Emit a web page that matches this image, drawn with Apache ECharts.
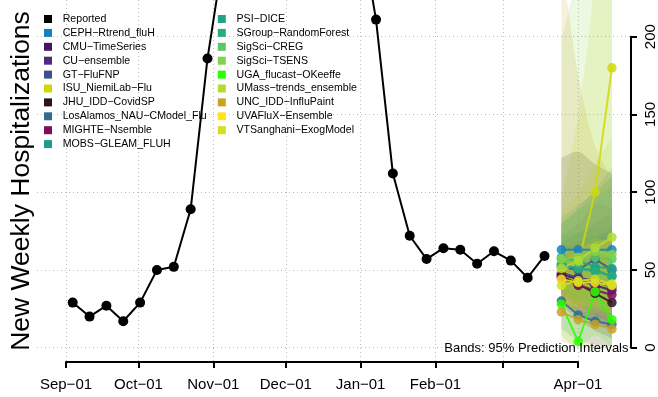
<!DOCTYPE html>
<html>
<head>
<meta charset="utf-8">
<script src="https://cdn.jsdelivr.net/npm/echarts@6/dist/echarts.min.js"></script>
<style>
  html, body { margin: 0; padding: 0; background: #ffffff; }
  #chart { width: 658px; height: 397px; }
</style>
</head>
<body>
<div id="chart"></div>
<script>
// ---- Reported weekly admissions (week ending Saturday) ----
const reportedDates = [
  '2022-09-03','2022-09-10','2022-09-17','2022-09-24',
  '2022-10-01','2022-10-08','2022-10-15','2022-10-22','2022-10-29',
  '2022-11-05','2022-11-12','2022-11-19','2022-11-26',
  '2022-12-03','2022-12-10','2022-12-17','2022-12-24','2022-12-31',
  '2023-01-07','2023-01-14','2023-01-21','2023-01-28',
  '2023-02-04','2023-02-11','2023-02-18','2023-02-25',
  '2023-03-04','2023-03-11','2023-03-18'
];
const reportedValues = [
  29, 20, 27, 17,
  29, 50, 52, 89, 186,
  256, 330, 400, 450,
  470, 430, 380, 320, 275,
  211, 112, 72, 57,
  64, 63, 54, 62,
  56, 45, 59
];

// ---- Forecast targets ----
const forecastDates = ['2023-03-25', '2023-04-01', '2023-04-08', '2023-04-15'];

const modelNames = [
  'CEPH−Rtrend_fluH', 'CMU−TimeSeries', 'CU−ensemble', 'GT−FluFNP',
  'ISU_NiemiLab−Flu', 'JHU_IDD−CovidSP', 'LosAlamos_NAU−CModel_Flu',
  'MIGHTE−Nsemble', 'MOBS−GLEAM_FLUH', 'PSI−DICE', 'SGroup−RandomForest',
  'SigSci−CREG', 'SigSci−TSENS', 'UGA_flucast−OKeeffe',
  'UMass−trends_ensemble', 'UNC_IDD−InfluPaint', 'UVAFluX−Ensemble',
  'VTSanghani−ExogModel'
];
const modelColors = [
  '#1582c0', '#4b1366', '#4a2d80', '#3d5090',
  '#d0d80a', '#2c1222', '#2f6b90',
  '#7a0f5c', '#229a8b', '#20a386', '#26ad7e',
  '#5cc863', '#84d24a', '#2cff00',
  '#b3dc30', '#c9a227', '#fde31f',
  '#d3e020'
];
// Median forecasts
const modelMedian = [
  [63, 63, 63, 63],
  [47, 44, 40, 37],
  [48, 45, 43, 39],
  [52, 50, 57, 50],
  [50, 54, 100, 180],
  [46, 41, 35, 29],
  [30, 21, 17, 15],
  [45, 40, 37, 34],
  [53, 51, 50, 46],
  [58, 56, 52, 51],
  [54, 51, 49, 46],
  [57, 55, 58, 57],
  [57, 58, 62, 60],
  [28, 4, 36, 18],
  [51, 56, 64, 71],
  [23, 18, 15, 12],
  [44, 42, 42, 40],
  [40, 43, 44, 41]
];
// 95% prediction interval, lower bound
const modelLower95 = [
  [44, 38, 33, 28],
  [34, 27, 21, 16],
  [30, 23, 17, 12],
  [36, 30, 30, 24],
  [30, 25, 40, 60],
  [27, 18, 11, 6],
  [12, 5, 2, 1],
  [30, 22, 16, 11],
  [36, 29, 23, 18],
  [40, 33, 27, 22],
  [38, 32, 27, 23],
  [40, 34, 34, 30],
  [36, 30, 28, 24],
  [8, 0, 8, 0],
  [30, 26, 24, 22],
  [4, 1, 0, 0],
  [28, 24, 22, 18],
  [24, 27, 26, 22]
];
// 95% prediction interval, upper bound
const modelUpper95 = [
  [84, 92, 100, 110],
  [62, 66, 70, 74],
  [68, 74, 80, 86],
  [72, 80, 92, 90],
  [95, 150, 240, 400],
  [122, 126, 118, 112],
  [55, 50, 48, 48],
  [64, 68, 72, 76],
  [80, 90, 102, 116],
  [80, 88, 96, 104],
  [72, 74, 76, 78],
  [80, 88, 100, 110],
  [198, 243, 300, 380],
  [56, 40, 72, 48],
  [88, 100, 118, 135],
  [250, 175, 130, 110],
  [62, 64, 68, 70],
  [60, 66, 70, 68]
];

// ---- Axis ticks ----
const monthTickDates = [
  '2022-09-01','2022-10-01','2022-11-01','2022-12-01',
  '2023-01-01','2023-02-01','2023-03-01','2023-04-01'
];
const monthLabelDates = [
  '2022-09-01','2022-10-01','2022-11-01','2022-12-01',
  '2023-01-01','2023-02-01','2023-04-01'
];
const monthLabels = ['Sep−01','Oct−01','Nov−01','Dec−01','Jan−01','Feb−01','Apr−01'];
const yTickValues = [0, 50, 100, 150, 200];

// ---- helpers ----
// dates are placed on a numeric (millisecond) axis
const ts = s => { const p = s.split('-').map(Number); return Date.UTC(p[0], p[1] - 1, p[2]); };
const FONT = '"Liberation Sans", Arial, Helvetica, sans-serif';
const DOT = { color: '#bdbdbd', width: 1, type: [1, 3] };
const BAND_ALPHA = 0.16;

const plotStart = ts('2022-08-20');
const plotEnd = ts('2023-04-25');
const labelTs = monthLabelDates.map(ts);
const forecastTs = forecastDates.map(ts);

// Catmull-Rom style cubic segments through pixel points
function curveThrough(pts, first) {
  let s = (first ? 'M' : 'L') + pts[0][0] + ' ' + pts[0][1];
  const n = pts.length;
  for (let i = 0; i < n - 1; i++) {
    const p0 = pts[Math.max(i - 1, 0)], p1 = pts[i], p2 = pts[i + 1], p3 = pts[Math.min(i + 2, n - 1)];
    const c1 = [p1[0] + (p2[0] - p0[0]) / 6, p1[1] + (p2[1] - p0[1]) / 6];
    const c2 = [p2[0] - (p3[0] - p1[0]) / 6, p2[1] - (p3[1] - p1[1]) / 6];
    s += 'C' + c1[0] + ' ' + c1[1] + ' ' + c2[0] + ' ' + c2[1] + ' ' + p2[0] + ' ' + p2[1];
  }
  return s;
}

const series = [];

// 95% prediction bands, one filled shape per model
modelNames.forEach((name, i) => {
  series.push({
    name: name + ' 95% band',
    type: 'custom', xAxisIndex: 0, yAxisIndex: 0, z: 1, silent: true, clip: true,
    data: forecastTs.map((x, k) => [x, modelLower95[i][k], modelUpper95[i][k]]),
    encode: { x: 0, y: [1, 2] },
    renderItem: (params, api) => {
      if (params.dataIndex !== 0) return null;
      const up = forecastTs.map((x, k) => api.coord([x, modelUpper95[i][k]]));
      const lo = forecastTs.map((x, k) => api.coord([x, modelLower95[i][k]])).reverse();
      const d = curveThrough(up, true) + curveThrough(lo, false) + 'Z';
      return {
        type: 'path',
        shape: { pathData: d },
        style: { fill: modelColors[i], opacity: BAND_ALPHA, stroke: null }
      };
    }
  });
});

// Reported data
series.push({
  name: 'Reported',
  type: 'line', xAxisIndex: 0, yAxisIndex: 0, z: 3,
  symbol: 'circle', symbolSize: 10,
  itemStyle: { color: '#000000' },
  lineStyle: { color: '#000000', width: 2 },
  data: reportedDates.map((d, k) => [ts(d), reportedValues[k]])
});

// Median forecast lines
modelNames.forEach((name, i) => {
  series.push({
    name: name,
    type: 'line', xAxisIndex: 0, yAxisIndex: 0, z: 4,
    symbol: 'circle', symbolSize: 9.5,
    itemStyle: { color: modelColors[i], opacity: 0.85 },
    lineStyle: { color: modelColors[i], width: 2, opacity: 0.85 },
    data: forecastTs.map((x, k) => [x, modelMedian[i][k]])
  });
});

const legendCommon = {
  orient: 'vertical', top: 13, padding: 0,
  itemWidth: 8, itemHeight: 8, itemGap: 1.9,
  icon: 'rect',
  itemStyle: { opacity: 1 },
  textStyle: { fontSize: 10.6, color: '#000', fontFamily: FONT, lineHeight: 12, padding: [0, 0, 0, 5.7] },
  selectedMode: false
};

const option = {
  animation: false,
  backgroundColor: '#ffffff',
  textStyle: { fontFamily: FONT },
  title: {
    text: 'Bands: 95% Prediction Intervals',
    right: 29.5, top: 341.5, padding: 0,
    textStyle: { fontSize: 13, fontWeight: 'normal', color: '#000', fontFamily: FONT, lineHeight: 13 }
  },
  legend: [
    Object.assign({ left: 44, data: ['Reported'].concat(modelNames.slice(0, 9)) }, legendCommon),
    Object.assign({ left: 217.8, data: modelNames.slice(9) }, legendCommon)
  ],
  grid: [
    { left: 37, right: 22, top: 0, bottom: 35 },        // plotting area
    { left: 37, right: 22, top: 36.7, bottom: 49.3 },   // count axis 0..200
    { left: 66, right: 80, top: 0, bottom: 35 }         // date axis Sep-01..Apr-01
  ],
  xAxis: [
    { gridIndex: 0, type: 'value', min: plotStart, max: plotEnd, show: false },
    { gridIndex: 1, type: 'value', min: plotStart, max: plotEnd, show: false },
    {
      gridIndex: 2, type: 'value', position: 'bottom',
      min: ts(monthTickDates[0]), max: ts(monthTickDates[monthTickDates.length - 1]),
      axisLine: { show: true, lineStyle: { color: '#000', width: 2 } },
      axisTick: { show: true, length: 6, lineStyle: { color: '#000', width: 2 },
                  customValues: monthTickDates.map(ts) },
      axisLabel: {
        show: true, fontSize: 15, color: '#000', fontFamily: FONT, margin: 15,
        customValues: labelTs,
        formatter: v => { const k = labelTs.indexOf(v); return k >= 0 ? monthLabels[k] : ''; }
      },
      splitLine: { show: true, lineStyle: DOT }
    }
  ],
  yAxis: [
    {
      gridIndex: 0, type: 'value', min: -9.196, max: 223.6, position: 'left',
      name: 'New Weekly Hospitalizations', nameLocation: 'middle', nameRotate: 90, nameGap: 4,
      nameTextStyle: { fontSize: 26.5, color: '#000', fontFamily: FONT },
      axisLine: { show: false }, axisTick: { show: false }, axisLabel: { show: false },
      splitLine: { show: false }
    },
    {
      gridIndex: 1, type: 'value', min: 0, max: 200, interval: 50, position: 'right',
      axisLine: { show: true, lineStyle: { color: '#000', width: 2 } },
      axisTick: { show: true, length: 6, lineStyle: { color: '#000', width: 2 },
                  customValues: yTickValues },
      axisLabel: { show: true, rotate: 90, fontSize: 15, color: '#000', fontFamily: FONT, margin: 12 },
      splitLine: { show: true, lineStyle: DOT }
    },
    { gridIndex: 2, type: 'value', min: 0, max: 1, show: false }
  ],
  series: series
};

const chart = echarts.init(document.getElementById('chart'), null, { renderer: 'canvas' });
chart.setOption(option);
</script>
</body>
</html>
